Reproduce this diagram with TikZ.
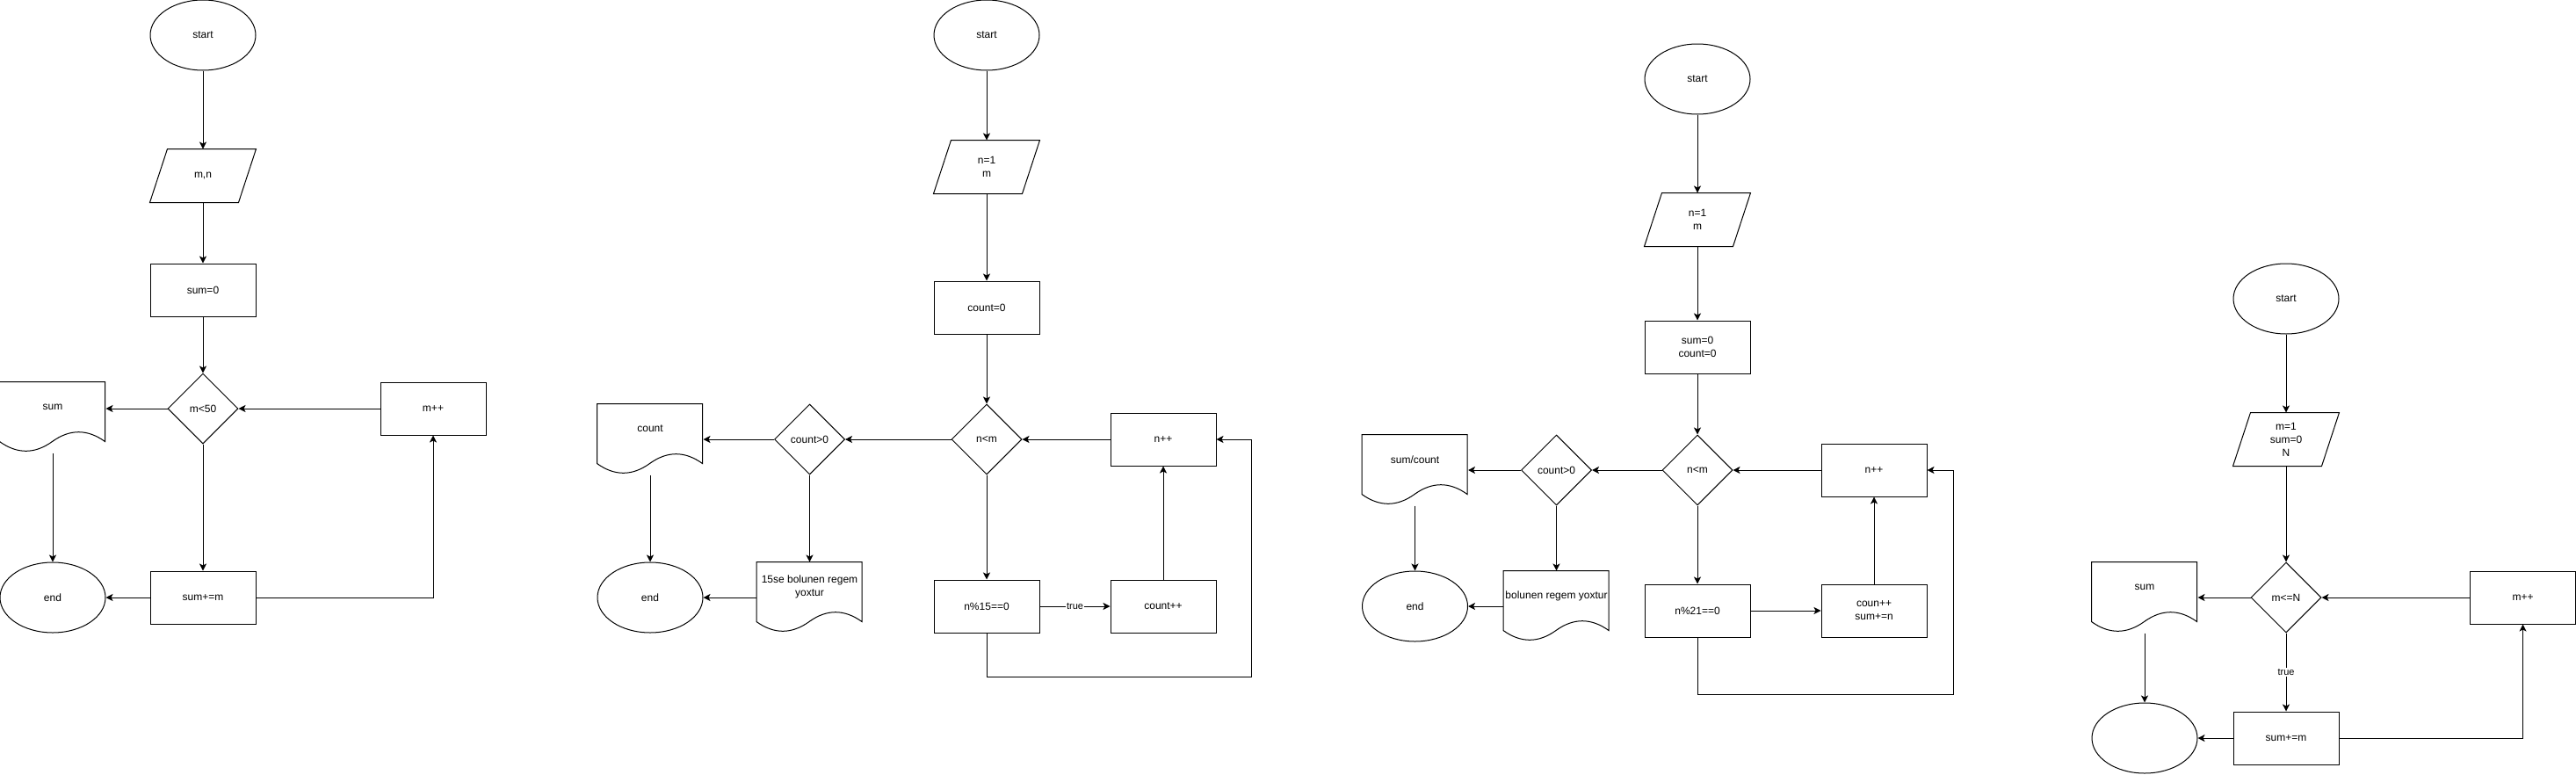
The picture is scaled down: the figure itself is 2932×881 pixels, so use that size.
\documentclass[tikz,border=0pt]{standalone}
\usepackage{fontspec}
\setmainfont{Liberation Sans}
\usetikzlibrary{shapes.geometric,arrows.meta}
\newcommand\ioshape[1]{\draw ([xshift=20pt]#1.north west) -- (#1.north east) -- ([xshift=-20pt]#1.south east) -- (#1.south west) -- cycle;}
\newcommand\docshape[1]{\begin{scope}[shift={(#1.north west)}]\draw (0,0) -- (120,0) -- (120,68) .. controls (100,53.6) and (80,53.6) .. (60,68) .. controls (40,82.4) and (20,82.4) .. (0,68) -- cycle;\end{scope}}
\begin{document}
\begin{tikzpicture}[x=1pt,y=-1pt, line width=1pt,
  every node/.style={font=\fontsize{12}{15}\selectfont, inner sep=0pt, align=center},
  term/.style={ellipse, draw, minimum width=120pt, minimum height=80pt},
  procbox/.style={rectangle, draw, minimum width=120pt, minimum height=60pt},
  iobox/.style={rectangle, minimum width=120pt, minimum height=60pt},
  decision/.style={diamond, draw, minimum width=80pt, minimum height=80pt, aspect=1},
  docbox/.style={rectangle, minimum width=120pt, minimum height=56pt},
  arr/.style={-{Stealth[length=8pt,width=8pt,inset=2pt]}},
  edgelabel/.style={fill=white, font=\fontsize{11}{13}\selectfont, inner sep=1pt}]
\useasboundingbox (0,0) rectangle (2932,881);

% ---------- Diagram 1 ----------
\node[term] (s1) at (231,40) {start};
\node[iobox] (p1) at (231,200) {m,n}; \ioshape{p1}
\node[procbox] (r1) at (231,330) {sum=0};
\node[decision] (c1) at (231,465) {m<50};
\node[docbox] (d1) at (60,463) {sum}; \docshape{d1}
\coordinate (d1b) at ([yshift=-24pt]d1.south);
\node[procbox] (i1) at (493,465) {m++};
\node[procbox] (a1) at (231,680) {sum+=m};
\node[term] (e1) at (60,680) {end};
\draw[arr] (s1.south) -- (p1.north);
\draw[arr] (p1.south) -- (r1.north);
\draw[arr] (r1.south) -- (c1.north);
\draw[arr] (c1.west) -- (c1.west -| d1.east);
\draw[arr] (i1.west) -- (c1.east);
\draw[arr] (c1.south) -- (a1.north);
\draw[arr] (a1.west) -- (e1.east);
\draw[arr] (a1.east) -| (i1.south);
\draw[arr] (d1b) -- (e1.north);

% ---------- Diagram 2 ----------
\node[term] (s2) at (1123,40) {start};
\node[iobox] (p2) at (1123,190) {n=1\\m}; \ioshape{p2}
\node[procbox] (r2) at (1123,350) {count=0};
\node[decision] (c2) at (1123,500) {n<m};
\node[procbox] (i2) at (1324,500) {n++};
\node[decision] (g2) at (921.5,500) {count>0};
\node[docbox] (d2) at (740,488) {count}; \docshape{d2}
\coordinate (d2b) at ([yshift=-24pt]d2.south);
\node[term] (e2) at (740,680) {end};
\node[docbox] (f2) at (921.5,668) {15se bolunen regem\\yoxtur}; \docshape{f2}
\node[procbox] (m2) at (1123,690) {n\%15==0};
\node[procbox] (k2) at (1324,690) {count++};
\coordinate (l2) at (1424,770);
\draw[arr] (s2.south) -- (p2.north);
\draw[arr] (p2.south) -- (r2.north);
\draw[arr] (r2.south) -- (c2.north);
\draw[arr] (c2.west) -- (g2.east);
\draw[arr] (g2.west) -- (g2.west -| d2.east);
\draw[arr] (i2.west) -- (c2.east);
\draw[arr] (c2.south) -- (m2.north);
\draw[arr] (m2.east) -- node[edgelabel] {true} (k2.west);
\draw[arr] (k2.north) -- (i2.south);
\draw[arr] (m2.south) |- (l2) |- (i2.east);
\draw[arr] (g2.south) -- (f2.north);
\draw[arr] (f2.west |- e2.east) -- (e2.east);
\draw[arr] (d2b) -- (e2.north);

% ---------- Diagram 3 ----------
\node[term] (s3) at (1932,90) {start};
\node[iobox] (p3) at (1932,250) {n=1\\m}; \ioshape{p3}
\node[procbox] (r3) at (1932,395) {sum=0\\count=0};
\node[decision] (c3) at (1932,535) {n<m};
\node[procbox] (i3) at (2133,535) {n++};
\node[decision] (g3) at (1771.5,535) {count>0};
\node[docbox] (d3) at (1610.5,523) {sum/count}; \docshape{d3}
\coordinate (d3b) at ([yshift=-24pt]d3.south);
\node[term] (e3) at (1610.5,690) {end};
\node[docbox] (f3) at (1771.5,678) {bolunen regem yoxtur}; \docshape{f3}
\node[procbox] (m3) at (1932,695) {n\%21==0};
\node[procbox] (k3) at (2133,695) {coun++\\sum+=n};
\coordinate (l3) at (2223.5,790);
\draw[arr] (s3.south) -- (p3.north);
\draw[arr] (p3.south) -- (r3.north);
\draw[arr] (r3.south) -- (c3.north);
\draw[arr] (c3.west) -- (g3.east);
\draw[arr] (g3.west) -- (g3.west -| d3.east);
\draw[arr] (i3.west) -- (c3.east);
\draw[arr] (c3.south) -- (m3.north);
\draw[arr] (m3.east) -- (k3.west);
\draw[arr] (k3.north) -- (i3.south);
\draw[arr] (m3.south) |- (l3) |- (i3.east);
\draw[arr] (g3.south) -- (f3.north);
\draw[arr] (f3.west |- e3.east) -- (e3.east);
\draw[arr] (d3b) -- (e3.north);

% ---------- Diagram 4 ----------
\node[term] (s4) at (2602,340) {start};
\node[iobox] (p4) at (2602,500) {m=1\\sum=0\\N}; \ioshape{p4}
\node[decision] (c4) at (2602,680) {m<=N};
\node[docbox] (d4) at (2441,668) {sum}; \docshape{d4}
\coordinate (d4b) at ([yshift=-24pt]d4.south);
\node[procbox] (i4) at (2871.5,680) {m++};
\node[procbox] (a4) at (2602,840) {sum+=m};
\node[term] (e4) at (2441,840) {};
\draw[arr] (s4.south) -- (p4.north);
\draw[arr] (p4.south) -- (c4.north);
\draw[arr] (c4.west) -- (c4.west -| d4.east);
\draw[arr] (i4.west) -- (c4.east);
\draw[arr] (c4.south) -- node[edgelabel] {true} (a4.north);
\draw[arr] (a4.west) -- (e4.east);
\draw[arr] (a4.east) -| (i4.south);
\draw[arr] (d4b) -- (e4.north);
\end{tikzpicture}
\end{document}
